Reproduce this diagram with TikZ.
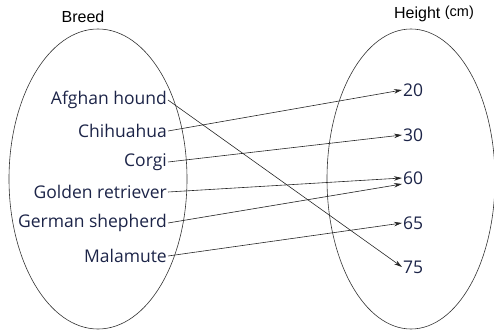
\documentclass[tikz,border=0pt]{standalone}
\usepackage{fontspec}
\usepackage{xcolor}
\usetikzlibrary{arrows.meta, positioning}
\setmainfont{Liberation Sans}
\newfontfamily\itemfont{Open Sans}
\definecolor{itemblue}{RGB}{28, 36, 72}

\begin{document}
\begin{tikzpicture}[
    x=1pt, y=-1pt,
    set/.style={draw=black!80, line width=0.6pt},
    head/.style={font=\fontsize{16}{18}\selectfont, inner sep=0pt},
    breed/.style={anchor=east, inner sep=1pt, text=itemblue, font=\itemfont\fontsize{17.5}{20}\selectfont},
    height/.style={anchor=west, inner sep=1pt, text=itemblue, font=\itemfont\fontsize{17.5}{20}\selectfont},
    arrow/.style={-{Stealth[length=8pt, width=4.5pt]}, draw=black!85, line width=0.6pt}
]
    \useasboundingbox (0,0) rectangle (494,331);

    % Sets
    \draw[set] (98,179) ellipse (89 and 150);
    \draw[set] (411,179) ellipse (84 and 150);
    \node[head] (breedhead) at (83,17) {Breed};
    \node[head] (heighthead) at (434,14) {Height {\fontsize{14.5}{16}\selectfont\raisebox{1.5pt}{(cm)}}};

    % Breeds
    \node[breed] (afghan) at (168,100) {Afghan hound};
    \node[breed] (chihuahua) at (168,131) {Chihuahua};
    \node[breed] (corgi) at (168,162) {Corgi};
    \node[breed] (golden) at (168,192) {Golden retriever};
    \node[breed] (german) at (168,223) {German shepherd};
    \node[breed] (malamute) at (168,256) {Malamute};

    % Heights
    \node[height] (h20) at (402,90) {20};
    \node[height] (h30) at (402,135) {30};
    \node[height] (h60) at (402,178) {60};
    \node[height] (h65) at (402,223) {65};
    \node[height] (h75) at (402,267) {75};

    % Mapping
    \draw[arrow] (afghan.east) -- (h75.west);
    \draw[arrow] (chihuahua.east) -- (h20.west);
    \draw[arrow] (corgi.east) -- (h30.west);
    \draw[arrow] (golden.east) -- (h60.west);
    \draw[arrow] (german.east) -- ([yshift=-6pt]h60.west);
    \draw[arrow] (malamute.east) -- (h65.west);

\end{tikzpicture}
\end{document}
